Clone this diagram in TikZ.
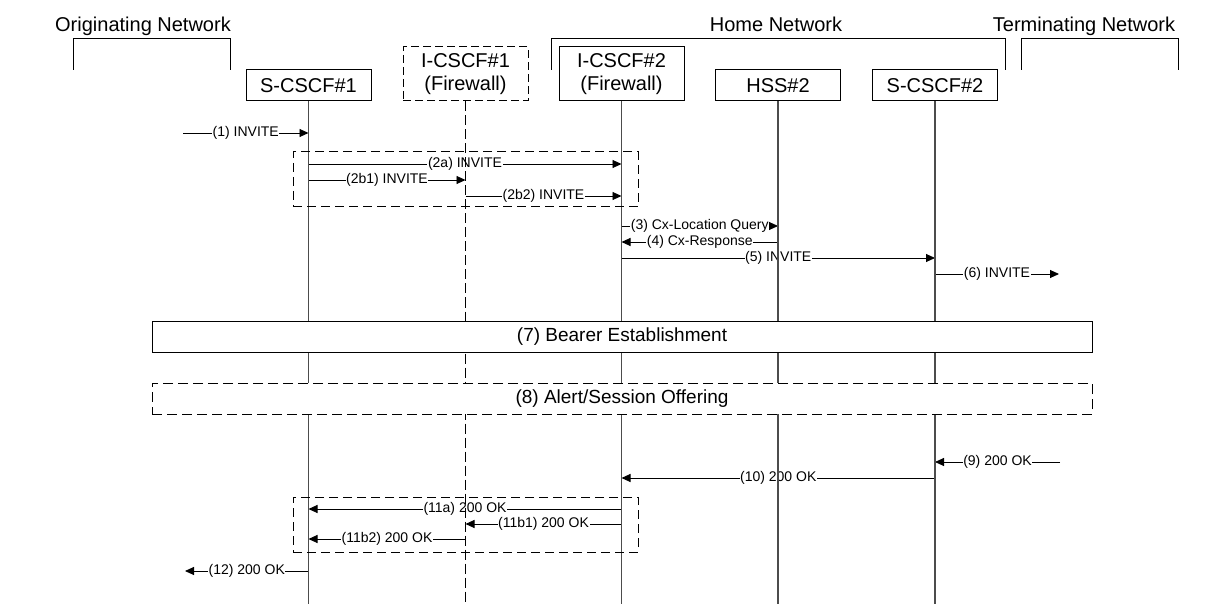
\documentclass[tikz,border=0pt]{standalone}
\usepackage{fontspec}
\setmainfont{Liberation Sans}
\usetikzlibrary{arrows.meta}
\begin{document}
\begin{tikzpicture}[x=1pt,y=-1pt,
  headbox/.style={draw,line width=1pt,fill=white,inner sep=0pt,align=center,
    minimum width=125pt,font=\fontsize{20}{23}\selectfont},
  dashedhead/.style={headbox,dash pattern=on 8pt off 4pt},
  netlbl/.style={inner sep=0pt,anchor=base,font=\fontsize{20}{23}\selectfont},
  bracket/.style={line width=1pt},
  life/.style={line width=1.4pt,draw=black!70},
  dashedlife/.style={life,draw=black,line width=1.1pt,dash pattern=on 10pt off 4pt},
  msg/.style={line width=0.9pt,-{Triangle[length=9pt,width=8pt]}},
  lbl/.style={fill=white,inner sep=0.6pt,font=\fontsize{14}{16}\selectfont},
  phase/.style={draw,line width=1pt,fill=white,minimum width=940pt,minimum height=31pt,
    inner sep=0pt,font=\fontsize{19}{21}\selectfont},
  grp/.style={draw,line width=1pt,dash pattern=on 9pt off 5pt,inner sep=0pt}
]
\useasboundingbox (0,0) rectangle (1208,604);

% network brackets
\node[netlbl] (on) at (143,32) {Originating Network};
\node[netlbl] (hn) at (776,32) {Home Network};
\node[netlbl] (tn) at (1084,32) {Terminating Network};
\draw[bracket] (73,70) -- (73,39) -- (230,39) -- (230,70);
\draw[bracket] (551,70) -- (551,39) -- (1005,39) -- (1005,70);
\draw[bracket] (1021,70) -- (1021,39) -- (1178,39) -- (1178,70);

% heads
\node[headbox,minimum height=31pt] (s1) at (308.5,85.5) {S-CSCF\#1};
\node[dashedhead,minimum height=54pt] (i1) at (465.5,74) {I-CSCF\#1\\(Firewall)};
\node[headbox,minimum height=54pt] (i2) at (621.5,74) {I-CSCF\#2\\(Firewall)};
\node[headbox,minimum height=31pt] (h2) at (778,85.5) {HSS\#2};
\node[headbox,minimum height=31pt] (s2) at (935,85.5) {S-CSCF\#2};

% free ends
\coordinate (in1) at (183,133);
\coordinate (out6) at (1059,274);
\coordinate (in9) at (1060,462);
\coordinate (out12) at (185,571);

% messages
\draw[msg] (in1) -- node[lbl]{(1) INVITE} (s1 |- in1);
\draw[msg] (s1 |- 0,164) -- node[lbl]{(2a) INVITE} (i2 |- 0,164);
\draw[msg] (s1 |- 0,180) -- node[lbl]{(2b1) INVITE} (i1 |- 0,180);
\draw[msg] (i1 |- 0,196) -- node[lbl]{(2b2) INVITE} (i2 |- 0,196);
\draw[msg] (i2 |- 0,226) -- node[lbl]{(3) Cx-Location Query} (h2 |- 0,226);
\draw[msg] (h2 |- 0,242) -- node[lbl]{(4) Cx-Response} (i2 |- 0,242);
\draw[msg] (i2 |- 0,258) -- node[lbl]{(5) INVITE} (s2 |- 0,258);
\draw[msg] (s2 |- out6) -- node[lbl]{(6) INVITE} (out6);
\draw[msg] (in9) -- node[lbl]{(9) 200 OK} (s2 |- in9);
\draw[msg] (s2 |- 0,478) -- node[lbl]{(10) 200 OK} (i2 |- 0,478);
\draw[msg] (i2 |- 0,509) -- node[lbl]{(11a) 200 OK} (s1 |- 0,509);
\draw[msg] (i2 |- 0,524) -- node[lbl]{(11b1) 200 OK} (i1 |- 0,524);
\draw[msg] (i1 |- 0,539) -- node[lbl]{(11b2) 200 OK} (s1 |- 0,539);
\draw[msg] (s1 |- out12) -- node[lbl]{(12) 200 OK} (out12);

% lifelines
\coordinate (s1e) at (s1 |- 0,604);
\coordinate (i1e) at (i1 |- 0,604);
\coordinate (i2e) at (i2 |- 0,604);
\coordinate (h2e) at (h2 |- 0,604);
\coordinate (s2e) at (s2 |- 0,604);
\draw[life] (s1.south) -- (s1e);
\draw[dashedlife] (i1.south) -- (i1e);
\draw[life] (i2.south) -- (i2e);
\draw[life] (h2.south) -- (h2e);
\draw[life] (s2.south) -- (s2e);

% groups
\node[grp,minimum width=345pt,minimum height=55pt] (g2) at (465.5,179.5) {};
\node[grp,minimum width=345pt,minimum height=55pt] (g11) at (465.5,524.5) {};

% phases
\node[phase] (p7) at (622,336.5) {(7) Bearer Establishment};
\node[phase,dash pattern=on 10pt off 5pt] (p8) at (622,398.5) {(8) Alert/Session Offering};
\end{tikzpicture}
\end{document}
